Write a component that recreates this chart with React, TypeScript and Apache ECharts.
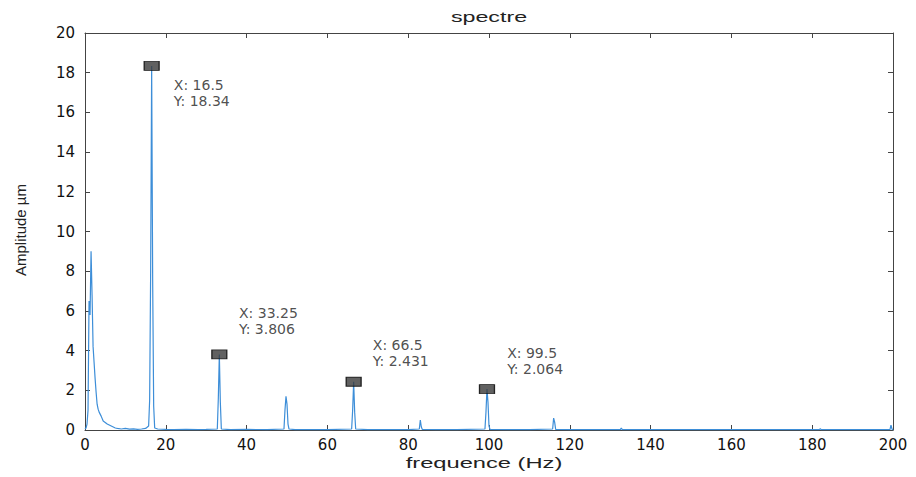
import React, { useEffect, useRef } from "react";
import * as echarts from "echarts";

// Spectrum samples (frequency in Hz, amplitude in µm)
const freqs = [
  0, 0.25, 0.5, 0.75, 1.0, 1.25, 1.5, 1.75, 2.0, 2.25, 2.5, 2.75, 3.0, 3.25, 3.5, 4.0, 4.5, 5.0, 5.5, 6.0,
  6.5, 7.0, 7.5, 8.0, 9.0, 10.0, 11.0, 12.0, 13.0, 14.0, 15.0, 15.75, 16.0, 16.25, 16.5, 16.75, 17.0, 17.25,
  18.0, 20.0, 22.0, 25.0, 28.0, 30.0, 32.75, 33.0, 33.25, 33.5, 33.75, 36.0, 40.0, 45.0, 49.25, 49.5, 49.75,
  50.0, 50.25, 50.5, 52.0, 55.0, 60.0, 66.0, 66.25, 66.5, 66.75, 67.0, 70.0, 75.0, 80.0, 82.75, 83.0, 83.25,
  83.5, 87.0, 92.0, 99.0, 99.25, 99.5, 99.75, 100.0, 100.25, 104.0, 110.0, 115.75, 116.0, 116.25, 116.5,
  120.0, 126.0, 132.5, 132.75, 133.0, 140.0, 150.0, 160.0, 170.0, 181.75, 182.0, 182.25, 190.0, 199.25,
  199.5, 199.75, 200.0,
];
const amps = [
  0.05, 0.1, 0.3, 1.0, 6.5, 5.8, 9.0, 6.8, 4.2, 3.4, 2.6, 1.9, 1.3, 1.05, 0.9, 0.7, 0.45, 0.38, 0.3, 0.25,
  0.2, 0.15, 0.1, 0.08, 0.05, 0.08, 0.04, 0.06, 0.03, 0.05, 0.08, 0.2, 1.5, 8.0, 18.34, 7.5, 1.2, 0.1,
  0.05, 0.03, 0.02, 0.03, 0.02, 0.03, 0.05, 1.6, 3.806, 1.4, 0.05, 0.02, 0.03, 0.02, 0.05, 1.0, 1.7,
  1.3, 0.3, 0.05, 0.02, 0.02, 0.02, 0.05, 1.0, 2.431, 0.9, 0.05, 0.02, 0.02, 0.02, 0.05, 0.5, 0.15,
  0.03, 0.02, 0.02, 0.05, 0.9, 2.064, 1.4, 0.2, 0.03, 0.02, 0.02, 0.05, 0.6, 0.4, 0.03,
  0.02, 0.02, 0.02, 0.1, 0.02, 0.02, 0.02, 0.02, 0.02, 0.02, 0.06, 0.02, 0.02, 0.02,
  0.25, 0.05, 0.0,
];

// Data tips
const tipX = [16.5, 33.25, 66.5, 99.5];
const tipY = [18.34, 3.806, 2.431, 2.064];

const xTicks = { min: 0, max: 200, interval: 20 };
const yTicks = { min: 0, max: 20, interval: 2 };

const titleText = "spectre";
const xName = "frequence (Hz)";
const yName = "Amplitude µm";

// label offsets (layout only)
const tipLabelOffsets = [
  [14, 27],
  [11.5, -33],
  [11, -29],
  [12, -28],
];

export default function App() {
  const ref = useRef<HTMLDivElement>(null);
  useEffect(() => {
    if (!ref.current) return;
    const chart = echarts.init(ref.current, undefined, { renderer: "svg" });
    const axisColor = "#444";
    const mkX = (pos: "top" | "bottom", labels: boolean) => ({
      type: "value",
      position: pos,
      min: xTicks.min,
      max: xTicks.max,
      interval: xTicks.interval,
      axisLine: { show: true, onZero: false, lineStyle: { color: axisColor, width: 1 } },
      axisTick: { show: true, inside: true, length: 5, lineStyle: { color: axisColor } },
      axisLabel: {
        show: labels,
        color: "#111",
        fontSize: 15,
        fontFamily: "DejaVu Sans",
        margin: 7,
      },
      splitLine: { show: false },
    });
    const mkY = (pos: "left" | "right", labels: boolean) => ({
      type: "value",
      position: pos,
      min: yTicks.min,
      max: yTicks.max,
      interval: yTicks.interval,
      axisLine: { show: true, onZero: false, lineStyle: { color: axisColor, width: 1 } },
      axisTick: { show: true, inside: true, length: 5, lineStyle: { color: axisColor } },
      axisLabel: {
        show: labels,
        color: "#111",
        fontSize: 15,
        fontFamily: "DejaVu Sans",
        margin: 10,
      },
      splitLine: { show: false },
    });

    chart.setOption({
      animation: false,
      backgroundColor: "#fff",
      grid: { left: 85, right: 23, top: 33, bottom: 47, containLabel: false },
      xAxis: [mkX("bottom", true), mkX("top", false)],
      yAxis: [mkY("left", true), mkY("right", false)],
      graphic: [
        {
          type: "text",
          x: 489,
          y: 17,
          scaleX: 1.55,
          style: {
            text: titleText,
            fontSize: 15,
            fontFamily: "Liberation Sans",
            fill: "#222",
            align: "center",
            verticalAlign: "middle",
          },
        },
        {
          type: "text",
          x: 484,
          y: 463,
          scaleX: 1.58,
          style: {
            text: xName,
            fontSize: 15,
            fontFamily: "Liberation Sans",
            fill: "#222",
            align: "center",
            verticalAlign: "middle",
          },
        },
        {
          type: "text",
          x: 20,
          y: 230,
          rotation: Math.PI / 2,
          style: {
            text: yName,
            fontSize: 15,
            fontFamily: "Liberation Sans",
            fill: "#222",
            align: "center",
            verticalAlign: "middle",
          },
        },
      ],
      series: [
        {
          type: "line",
          data: freqs.map((f, i) => [f, amps[i]]),
          showSymbol: false,
          symbol: "none",
          lineStyle: { color: "#3d8ed8", width: 1.2 },
          z: 2,
        },
        {
          type: "scatter",
          symbol: "rect",
          symbolSize: [15, 9],
          itemStyle: { color: "#3a3a3a", borderColor: "#000", borderWidth: 1 },
          z: 3,
          data: tipX.map((x, i) => ({
            value: [x, tipY[i]],
            label: { offset: tipLabelOffsets[i] },
          })),
          label: {
            show: true,
            position: "right",
            distance: 0,
            color: "#222",
            fontSize: 14,
            fontFamily: "DejaVu Sans",
            lineHeight: 16,
            align: "left",
            verticalAlign: "middle",
            formatter: (p: any) => `X: ${p.value[0]}\nY: ${p.value[1]}`,
          },
        },
      ],
    });
    return () => chart.dispose();
  }, []);
  return (
    <div
      ref={ref}
      style={{ position: "absolute", left: 0, top: 0, width: 916, height: 477 }}
    />
  );
}
